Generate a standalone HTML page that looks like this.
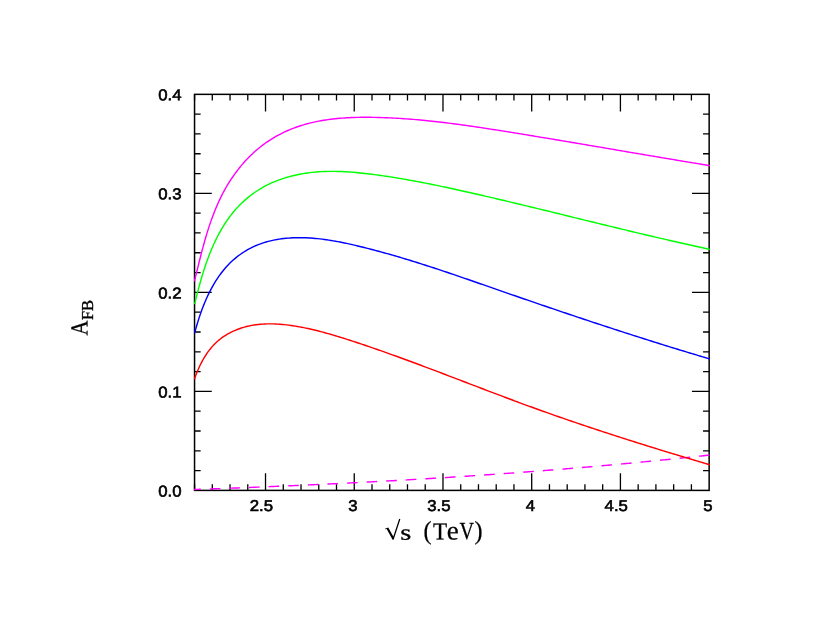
<!DOCTYPE html>
<html lang="en"><head><meta charset="utf-8"><title>A_FB vs sqrt(s)</title>
<style>html,body{margin:0;padding:0;background:#fff;}body{width:830px;height:642px;overflow:hidden;}</style>
</head><body>
<svg width="830" height="642" viewBox="0 0 830 642" style="display:block;will-change:transform;transform:translateZ(0)">
<rect x="0" y="0" width="830" height="642" fill="#ffffff"/>
<clipPath id="c"><rect x="193.75" y="94.35" width="516.1999999999999" height="396.84999999999997"/></clipPath>
<path d="M194.55,490.4 V484.30 M194.55,94.35 V100.45 M212.29,490.4 V484.30 M212.29,94.35 V100.45 M230.03,490.4 V484.30 M230.03,94.35 V100.45 M247.78,490.4 V484.30 M247.78,94.35 V100.45 M265.52,490.4 V473.20 M265.52,94.35 V111.55 M283.27,490.4 V484.30 M283.27,94.35 V100.45 M301.02,490.4 V484.30 M301.02,94.35 V100.45 M318.76,490.4 V484.30 M318.76,94.35 V100.45 M336.50,490.4 V484.30 M336.50,94.35 V100.45 M354.25,490.4 V473.20 M354.25,94.35 V111.55 M372.00,490.4 V484.30 M372.00,94.35 V100.45 M389.74,490.4 V484.30 M389.74,94.35 V100.45 M407.48,490.4 V484.30 M407.48,94.35 V100.45 M425.23,490.4 V484.30 M425.23,94.35 V100.45 M442.98,490.4 V473.20 M442.98,94.35 V111.55 M460.72,490.4 V484.30 M460.72,94.35 V100.45 M478.47,490.4 V484.30 M478.47,94.35 V100.45 M496.21,490.4 V484.30 M496.21,94.35 V100.45 M513.95,490.4 V484.30 M513.95,94.35 V100.45 M531.70,490.4 V473.20 M531.70,94.35 V111.55 M549.44,490.4 V484.30 M549.44,94.35 V100.45 M567.19,490.4 V484.30 M567.19,94.35 V100.45 M584.93,490.4 V484.30 M584.93,94.35 V100.45 M602.68,490.4 V484.30 M602.68,94.35 V100.45 M620.42,490.4 V473.20 M620.42,94.35 V111.55 M638.17,490.4 V484.30 M638.17,94.35 V100.45 M655.91,490.4 V484.30 M655.91,94.35 V100.45 M673.66,490.4 V484.30 M673.66,94.35 V100.45 M691.41,490.4 V484.30 M691.41,94.35 V100.45 M194.55,470.60 H200.65 M709.15,470.60 H703.05 M194.55,450.79 H200.65 M709.15,450.79 H703.05 M194.55,430.99 H200.65 M709.15,430.99 H703.05 M194.55,411.19 H200.65 M709.15,411.19 H703.05 M194.55,391.39 H211.75 M709.15,391.39 H691.95 M194.55,371.58 H200.65 M709.15,371.58 H703.05 M194.55,351.78 H200.65 M709.15,351.78 H703.05 M194.55,331.98 H200.65 M709.15,331.98 H703.05 M194.55,312.18 H200.65 M709.15,312.18 H703.05 M194.55,292.38 H211.75 M709.15,292.38 H691.95 M194.55,272.57 H200.65 M709.15,272.57 H703.05 M194.55,252.77 H200.65 M709.15,252.77 H703.05 M194.55,232.97 H200.65 M709.15,232.97 H703.05 M194.55,213.17 H200.65 M709.15,213.17 H703.05 M194.55,193.36 H211.75 M709.15,193.36 H691.95 M194.55,173.56 H200.65 M709.15,173.56 H703.05 M194.55,153.76 H200.65 M709.15,153.76 H703.05 M194.55,133.96 H200.65 M709.15,133.96 H703.05 M194.55,114.15 H200.65 M709.15,114.15 H703.05" stroke="#000" stroke-width="1.3" fill="none"/>
<rect x="194.55" y="94.35" width="514.5999999999999" height="396.04999999999995" fill="none" stroke="#000" stroke-width="1.5"/>
<g fill="none" stroke-linejoin="round" stroke-linecap="butt" clip-path="url(#c)">
<path d="M193.80,489.51 L195.79,489.44 L197.79,489.37 L199.78,489.30 L201.78,489.23 L203.77,489.16 L205.77,489.09 L207.76,489.02 L209.76,488.95 L211.75,488.88 L213.75,488.80 L215.74,488.73 L217.74,488.66 L219.73,488.59 L221.72,488.51 L223.72,488.44 L225.71,488.37 L227.71,488.29 L229.70,488.22 L231.70,488.14 L233.69,488.07 L235.69,487.99 L237.68,487.92 L239.68,487.84 L241.67,487.76 L243.66,487.68 L245.66,487.61 L247.65,487.53 L249.65,487.45 L251.64,487.37 L253.64,487.29 L255.63,487.21 L257.63,487.13 L259.62,487.05 L261.61,486.97 L263.61,486.89 L265.60,486.81 L267.60,486.73 L269.59,486.64 L271.59,486.56 L273.58,486.48 L275.57,486.40 L277.57,486.31 L279.56,486.23 L281.56,486.14 L283.55,486.06 L285.55,485.97 L287.54,485.88 L289.53,485.80 L291.53,485.71 L293.52,485.62 L295.52,485.54 L297.51,485.45 L299.51,485.36 L301.50,485.27 L303.49,485.18 L305.49,485.09 L307.48,485.00 L309.48,484.91 L311.47,484.82 L313.46,484.73 L315.46,484.63 L317.45,484.54 L319.45,484.45 L321.44,484.35 L323.43,484.26 L325.43,484.17 L327.42,484.07 L329.41,483.98 L331.41,483.88 L333.40,483.78 L335.40,483.69 L337.39,483.59 L339.38,483.49 L341.38,483.39 L343.37,483.30 L345.36,483.20 L347.36,483.10 L349.35,483.00 L351.34,482.90 L353.34,482.79 L355.33,482.69 L357.32,482.59 L359.32,482.49 L361.31,482.39 L363.31,482.28 L365.30,482.18 L367.29,482.07 L369.29,481.97 L371.28,481.86 L373.27,481.76 L375.26,481.65 L377.26,481.54 L379.25,481.44 L381.24,481.33 L383.24,481.22 L385.23,481.11 L387.22,481.00 L389.22,480.89 L391.21,480.78 L393.20,480.67 L395.20,480.56 L397.19,480.44 L399.18,480.33 L401.17,480.22 L403.17,480.10 L405.16,479.99 L407.15,479.88 L409.14,479.76 L411.14,479.64 L413.13,479.53 L415.12,479.41 L417.12,479.29 L419.11,479.17 L421.10,479.06 L423.09,478.94 L425.09,478.82 L427.08,478.70 L429.07,478.58 L431.06,478.45 L433.05,478.33 L435.05,478.21 L437.04,478.09 L439.03,477.96 L441.02,477.84 L443.02,477.71 L445.01,477.59 L447.00,477.46 L448.99,477.34 L450.98,477.21 L452.97,477.08 L454.97,476.95 L456.96,476.82 L458.95,476.69 L460.94,476.56 L462.93,476.43 L464.93,476.30 L466.92,476.17 L468.91,476.04 L470.90,475.91 L472.89,475.77 L474.88,475.64 L476.87,475.50 L478.87,475.37 L480.86,475.23 L482.85,475.10 L484.84,474.96 L486.83,474.82 L488.82,474.68 L490.81,474.54 L492.80,474.40 L494.80,474.26 L496.79,474.12 L498.78,473.98 L500.77,473.84 L502.76,473.70 L504.75,473.55 L506.74,473.41 L508.73,473.26 L510.72,473.12 L512.71,472.97 L514.70,472.83 L516.69,472.68 L518.68,472.53 L520.67,472.38 L522.66,472.23 L524.65,472.08 L526.64,471.93 L528.63,471.78 L530.63,471.63 L532.62,471.48 L534.61,471.32 L536.60,471.17 L538.59,471.02 L540.57,470.86 L542.56,470.70 L544.55,470.55 L546.54,470.39 L548.53,470.23 L550.52,470.08 L552.51,469.92 L554.50,469.76 L556.49,469.60 L558.48,469.43 L560.47,469.27 L562.46,469.11 L564.45,468.95 L566.44,468.78 L568.43,468.62 L570.42,468.45 L572.41,468.29 L574.39,468.12 L576.38,467.95 L578.37,467.79 L580.36,467.62 L582.35,467.45 L584.34,467.28 L586.33,467.11 L588.32,466.94 L590.30,466.76 L592.29,466.59 L594.28,466.42 L596.27,466.24 L598.26,466.07 L600.25,465.89 L602.23,465.72 L604.22,465.54 L606.21,465.36 L608.20,465.18 L610.19,465.00 L612.17,464.82 L614.16,464.64 L616.15,464.46 L618.14,464.28 L620.13,464.09 L622.11,463.91 L624.10,463.73 L626.09,463.54 L628.08,463.35 L630.06,463.17 L632.05,462.98 L634.04,462.79 L636.02,462.60 L638.01,462.41 L640.00,462.22 L641.98,462.03 L643.97,461.84 L645.96,461.65 L647.95,461.45 L649.93,461.26 L651.92,461.06 L653.90,460.87 L655.89,460.67 L657.88,460.47 L659.86,460.27 L661.85,460.08 L663.84,459.88 L665.82,459.67 L667.81,459.47 L669.79,459.27 L671.78,459.07 L673.77,458.86 L675.75,458.66 L677.74,458.45 L679.72,458.25 L681.71,458.04 L683.69,457.83 L685.68,457.63 L687.66,457.42 L689.65,457.21 L691.64,457.00 L693.62,456.78 L695.61,456.57 L697.59,456.36 L699.58,456.14 L701.56,455.93 L703.54,455.71 L705.53,455.50 L707.51,455.28 L709.50,455.06" stroke="#ff00ff" stroke-width="1.42" stroke-dasharray="10.6 9.02" stroke-dashoffset="3.6"/>
<path d="M194.64,378.56 L195.35,376.54 L196.11,374.52 L196.90,372.50 L197.73,370.49 L198.60,368.49 L199.51,366.50 L200.46,364.53 L201.46,362.58 L202.49,360.64 L203.57,358.74 L204.70,356.86 L205.87,355.01 L207.09,353.20 L208.35,351.42 L209.67,349.69 L211.03,348.00 L212.44,346.36 L213.91,344.77 L215.43,343.24 L217.00,341.76 L218.62,340.34 L220.30,338.98 L222.03,337.69 L223.80,336.45 L225.62,335.28 L227.48,334.16 L229.37,333.11 L231.30,332.12 L233.26,331.18 L235.25,330.31 L237.27,329.49 L239.30,328.73 L241.36,328.04 L243.43,327.40 L245.52,326.81 L247.62,326.29 L249.73,325.82 L251.85,325.41 L253.98,325.05 L256.11,324.74 L258.26,324.48 L260.41,324.27 L262.57,324.10 L264.73,323.98 L266.90,323.90 L269.07,323.87 L271.24,323.87 L273.42,323.91 L275.60,323.99 L277.78,324.11 L279.96,324.26 L282.14,324.44 L284.32,324.65 L286.50,324.89 L288.67,325.16 L290.85,325.45 L293.02,325.77 L295.18,326.11 L297.34,326.47 L299.49,326.85 L301.64,327.25 L303.78,327.67 L305.92,328.11 L308.05,328.56 L310.17,329.03 L312.29,329.52 L314.41,330.02 L316.52,330.53 L318.63,331.06 L320.73,331.60 L322.83,332.16 L324.93,332.73 L327.02,333.31 L329.11,333.90 L331.20,334.50 L333.28,335.11 L335.36,335.73 L337.44,336.35 L339.51,336.99 L341.58,337.63 L343.66,338.28 L345.72,338.94 L347.79,339.60 L349.86,340.27 L351.92,340.94 L353.98,341.61 L356.05,342.29 L358.11,342.97 L360.17,343.66 L362.23,344.34 L364.28,345.04 L366.34,345.73 L368.39,346.43 L370.45,347.13 L372.50,347.84 L374.55,348.55 L376.61,349.26 L378.66,349.97 L380.71,350.69 L382.75,351.41 L384.80,352.13 L386.85,352.86 L388.90,353.59 L390.94,354.32 L392.99,355.05 L395.03,355.79 L397.07,356.52 L399.11,357.26 L401.16,358.01 L403.20,358.75 L405.24,359.50 L407.28,360.25 L409.32,361.00 L411.36,361.75 L413.39,362.50 L415.43,363.26 L417.47,364.02 L419.50,364.78 L421.54,365.54 L423.58,366.30 L425.61,367.07 L427.65,367.83 L429.68,368.60 L431.71,369.37 L433.75,370.13 L435.78,370.90 L437.81,371.67 L439.85,372.45 L441.88,373.22 L443.91,373.99 L445.94,374.77 L447.98,375.54 L450.01,376.32 L452.04,377.09 L454.07,377.87 L456.10,378.65 L458.13,379.42 L460.16,380.20 L462.20,380.98 L464.23,381.76 L466.26,382.53 L468.29,383.31 L470.32,384.09 L472.35,384.87 L474.38,385.64 L476.41,386.42 L478.45,387.20 L480.48,387.97 L482.51,388.75 L484.54,389.52 L486.57,390.30 L488.61,391.07 L490.64,391.85 L492.67,392.62 L494.71,393.39 L496.74,394.16 L498.78,394.93 L500.81,395.70 L502.84,396.46 L504.88,397.23 L506.92,397.99 L508.95,398.76 L510.99,399.52 L513.03,400.28 L515.06,401.04 L517.10,401.79 L519.14,402.55 L521.18,403.30 L523.22,404.05 L525.26,404.80 L527.30,405.55 L529.35,406.30 L531.39,407.04 L533.43,407.78 L535.48,408.52 L537.52,409.26 L539.57,409.99 L541.61,410.72 L543.66,411.46 L545.71,412.18 L547.76,412.91 L549.81,413.64 L551.86,414.36 L553.91,415.08 L555.96,415.80 L558.01,416.51 L560.06,417.23 L562.12,417.94 L564.17,418.65 L566.22,419.36 L568.28,420.07 L570.33,420.78 L572.39,421.48 L574.45,422.18 L576.50,422.88 L578.56,423.58 L580.62,424.27 L582.68,424.97 L584.74,425.66 L586.80,426.35 L588.86,427.04 L590.92,427.73 L592.98,428.42 L595.05,429.10 L597.11,429.78 L599.17,430.46 L601.24,431.14 L603.30,431.82 L605.37,432.50 L607.43,433.17 L609.50,433.84 L611.57,434.51 L613.63,435.18 L615.70,435.85 L617.77,436.52 L619.84,437.18 L621.91,437.85 L623.98,438.51 L626.05,439.17 L628.12,439.83 L630.19,440.49 L632.26,441.14 L634.34,441.80 L636.41,442.45 L638.48,443.11 L640.56,443.76 L642.63,444.41 L644.70,445.05 L646.78,445.70 L648.85,446.35 L650.93,446.99 L653.01,447.64 L655.08,448.28 L657.16,448.92 L659.24,449.56 L661.32,450.20 L663.39,450.83 L665.47,451.47 L667.55,452.10 L669.63,452.74 L671.71,453.37 L673.79,454.00 L675.87,454.63 L677.95,455.26 L680.03,455.89 L682.11,456.52 L684.20,457.14 L686.28,457.77 L688.36,458.39 L690.44,459.01 L692.53,459.64 L694.61,460.26 L696.70,460.88 L698.78,461.50 L700.86,462.12 L702.95,462.73 L705.03,463.35 L707.12,463.97 L709.21,464.58" stroke="#ff0000" stroke-width="1.42" stroke-linecap="square"/>
<path d="M194.77,332.50 L195.33,330.44 L195.91,328.37 L196.51,326.29 L197.12,324.19 L197.76,322.09 L198.42,319.98 L199.10,317.86 L199.81,315.74 L200.54,313.61 L201.29,311.49 L202.07,309.36 L202.87,307.24 L203.70,305.13 L204.56,303.02 L205.44,300.91 L206.35,298.82 L207.29,296.74 L208.26,294.67 L209.27,292.61 L210.30,290.57 L211.36,288.55 L212.46,286.55 L213.59,284.57 L214.75,282.61 L215.95,280.68 L217.18,278.78 L218.44,276.90 L219.75,275.05 L221.09,273.24 L222.47,271.45 L223.89,269.71 L225.34,268.00 L226.84,266.32 L228.37,264.69 L229.95,263.10 L231.56,261.55 L233.21,260.05 L234.90,258.59 L236.63,257.17 L238.39,255.80 L240.18,254.48 L242.01,253.21 L243.87,251.98 L245.75,250.81 L247.67,249.68 L249.62,248.61 L251.60,247.60 L253.61,246.63 L255.64,245.72 L257.69,244.87 L259.77,244.07 L261.87,243.33 L264.00,242.63 L266.14,241.99 L268.30,241.40 L270.48,240.85 L272.67,240.35 L274.88,239.90 L277.10,239.50 L279.33,239.13 L281.57,238.81 L283.81,238.53 L286.07,238.30 L288.32,238.10 L290.59,237.94 L292.85,237.82 L295.12,237.73 L297.38,237.68 L299.64,237.67 L301.90,237.68 L304.16,237.73 L306.42,237.81 L308.67,237.92 L310.92,238.06 L313.17,238.22 L315.42,238.42 L317.66,238.64 L319.91,238.88 L322.14,239.15 L324.38,239.44 L326.62,239.76 L328.85,240.10 L331.08,240.45 L333.31,240.83 L335.53,241.22 L337.76,241.63 L339.98,242.06 L342.19,242.50 L344.41,242.96 L346.62,243.43 L348.83,243.91 L351.04,244.40 L353.25,244.91 L355.45,245.42 L357.65,245.94 L359.85,246.47 L362.05,247.01 L364.24,247.55 L366.43,248.10 L368.62,248.66 L370.81,249.22 L372.99,249.79 L375.17,250.36 L377.35,250.94 L379.53,251.53 L381.70,252.12 L383.88,252.72 L386.05,253.32 L388.22,253.93 L390.38,254.55 L392.55,255.17 L394.71,255.79 L396.87,256.42 L399.03,257.05 L401.19,257.69 L403.35,258.34 L405.50,258.99 L407.66,259.64 L409.81,260.30 L411.96,260.96 L414.11,261.63 L416.25,262.30 L418.40,262.97 L420.54,263.65 L422.69,264.33 L424.83,265.01 L426.97,265.70 L429.11,266.40 L431.25,267.09 L433.39,267.79 L435.52,268.49 L437.66,269.19 L439.79,269.90 L441.93,270.61 L444.06,271.32 L446.19,272.04 L448.32,272.75 L450.45,273.47 L452.58,274.20 L454.71,274.92 L456.84,275.64 L458.97,276.37 L461.10,277.10 L463.22,277.83 L465.35,278.56 L467.48,279.29 L469.60,280.03 L471.73,280.76 L473.85,281.50 L475.98,282.24 L478.10,282.98 L480.23,283.72 L482.35,284.45 L484.48,285.19 L486.60,285.93 L488.73,286.68 L490.85,287.42 L492.98,288.16 L495.11,288.90 L497.23,289.64 L499.36,290.38 L501.48,291.12 L503.61,291.86 L505.74,292.59 L507.86,293.33 L509.99,294.07 L512.12,294.81 L514.25,295.54 L516.38,296.28 L518.51,297.01 L520.63,297.75 L522.76,298.48 L524.89,299.22 L527.02,299.95 L529.15,300.68 L531.29,301.41 L533.42,302.14 L535.55,302.88 L537.68,303.61 L539.81,304.33 L541.95,305.06 L544.08,305.79 L546.21,306.52 L548.34,307.24 L550.48,307.97 L552.61,308.69 L554.75,309.42 L556.88,310.14 L559.02,310.86 L561.15,311.58 L563.29,312.31 L565.42,313.03 L567.56,313.75 L569.70,314.46 L571.83,315.18 L573.97,315.90 L576.11,316.61 L578.25,317.33 L580.39,318.04 L582.52,318.76 L584.66,319.47 L586.80,320.18 L588.94,320.89 L591.08,321.60 L593.22,322.31 L595.36,323.01 L597.50,323.72 L599.64,324.43 L601.79,325.13 L603.93,325.83 L606.07,326.54 L608.21,327.24 L610.35,327.94 L612.50,328.64 L614.64,329.33 L616.78,330.03 L618.93,330.73 L621.07,331.42 L623.22,332.11 L625.36,332.81 L627.51,333.50 L629.65,334.19 L631.80,334.88 L633.94,335.56 L636.09,336.25 L638.24,336.94 L640.38,337.62 L642.53,338.30 L644.68,338.98 L646.83,339.66 L648.97,340.34 L651.12,341.02 L653.27,341.70 L655.42,342.37 L657.57,343.05 L659.72,343.72 L661.87,344.39 L664.02,345.06 L666.17,345.73 L668.32,346.39 L670.47,347.06 L672.62,347.72 L674.77,348.39 L676.93,349.05 L679.08,349.71 L681.23,350.37 L683.38,351.02 L685.54,351.68 L687.69,352.33 L689.84,352.99 L692.00,353.64 L694.15,354.29 L696.31,354.93 L698.46,355.58 L700.62,356.23 L702.77,356.87 L704.93,357.51 L707.08,358.15 L709.24,358.79" stroke="#0000ff" stroke-width="1.42" stroke-linecap="square"/>
<path d="M194.81,303.43 L195.33,301.31 L195.85,299.17 L196.38,297.02 L196.92,294.86 L197.47,292.69 L198.03,290.51 L198.61,288.33 L199.20,286.13 L199.80,283.94 L200.42,281.73 L201.05,279.53 L201.69,277.32 L202.35,275.11 L203.03,272.90 L203.73,270.69 L204.44,268.48 L205.17,266.28 L205.92,264.08 L206.69,261.88 L207.48,259.69 L208.29,257.50 L209.12,255.32 L209.98,253.15 L210.85,250.99 L211.75,248.84 L212.68,246.70 L213.63,244.57 L214.60,242.46 L215.60,240.36 L216.62,238.28 L217.67,236.21 L218.75,234.16 L219.86,232.13 L221.00,230.12 L222.16,228.13 L223.36,226.16 L224.59,224.21 L225.84,222.29 L227.13,220.39 L228.45,218.52 L229.81,216.67 L231.20,214.85 L232.62,213.06 L234.08,211.29 L235.57,209.56 L237.10,207.86 L238.66,206.19 L240.26,204.56 L241.89,202.96 L243.56,201.39 L245.26,199.86 L246.99,198.37 L248.75,196.91 L250.55,195.49 L252.37,194.12 L254.23,192.78 L256.11,191.49 L258.03,190.23 L259.97,189.03 L261.94,187.86 L263.93,186.74 L265.95,185.66 L268.00,184.63 L270.07,183.64 L272.16,182.69 L274.27,181.79 L276.40,180.92 L278.54,180.10 L280.71,179.32 L282.89,178.57 L285.08,177.87 L287.29,177.21 L289.51,176.58 L291.75,176.00 L293.99,175.45 L296.24,174.94 L298.50,174.47 L300.76,174.03 L303.03,173.63 L305.30,173.27 L307.58,172.94 L309.86,172.64 L312.14,172.38 L314.43,172.15 L316.72,171.95 L319.01,171.78 L321.30,171.64 L323.60,171.53 L325.90,171.45 L328.20,171.39 L330.50,171.36 L332.81,171.36 L335.11,171.38 L337.42,171.42 L339.72,171.49 L342.03,171.58 L344.34,171.68 L346.65,171.81 L348.96,171.96 L351.27,172.13 L353.58,172.31 L355.89,172.51 L358.20,172.73 L360.50,172.96 L362.81,173.20 L365.12,173.46 L367.42,173.73 L369.72,174.01 L372.02,174.30 L374.32,174.60 L376.62,174.91 L378.91,175.23 L381.21,175.56 L383.50,175.89 L385.79,176.23 L388.07,176.57 L390.35,176.92 L392.64,177.28 L394.92,177.65 L397.19,178.02 L399.47,178.40 L401.74,178.78 L404.01,179.17 L406.28,179.57 L408.55,179.97 L410.82,180.37 L413.08,180.78 L415.35,181.20 L417.61,181.62 L419.87,182.05 L422.13,182.48 L424.39,182.92 L426.64,183.36 L428.90,183.81 L431.15,184.26 L433.41,184.71 L435.66,185.17 L437.91,185.64 L440.16,186.10 L442.41,186.57 L444.66,187.05 L446.90,187.53 L449.15,188.01 L451.39,188.49 L453.64,188.98 L455.88,189.47 L458.13,189.96 L460.37,190.46 L462.61,190.96 L464.85,191.46 L467.10,191.97 L469.34,192.47 L471.58,192.98 L473.82,193.49 L476.06,194.00 L478.30,194.52 L480.54,195.03 L482.78,195.55 L485.02,196.07 L487.26,196.59 L489.50,197.11 L491.74,197.64 L493.98,198.16 L496.22,198.69 L498.46,199.21 L500.71,199.74 L502.95,200.27 L505.19,200.80 L507.43,201.33 L509.67,201.87 L511.91,202.40 L514.15,202.94 L516.39,203.47 L518.63,204.01 L520.87,204.55 L523.11,205.09 L525.35,205.62 L527.59,206.17 L529.83,206.71 L532.07,207.25 L534.31,207.79 L536.55,208.33 L538.79,208.88 L541.03,209.42 L543.27,209.97 L545.51,210.51 L547.75,211.06 L549.99,211.61 L552.23,212.15 L554.47,212.70 L556.71,213.25 L558.95,213.79 L561.19,214.34 L563.44,214.89 L565.68,215.44 L567.92,215.99 L570.16,216.54 L572.40,217.08 L574.64,217.63 L576.88,218.18 L579.12,218.73 L581.36,219.28 L583.60,219.83 L585.84,220.37 L588.08,220.92 L590.32,221.47 L592.57,222.02 L594.81,222.56 L597.05,223.11 L599.29,223.66 L601.53,224.20 L603.77,224.75 L606.01,225.29 L608.26,225.84 L610.50,226.38 L612.74,226.93 L614.98,227.47 L617.22,228.01 L619.46,228.55 L621.71,229.09 L623.95,229.63 L626.19,230.17 L628.43,230.71 L630.67,231.24 L632.92,231.78 L635.16,232.32 L637.40,232.85 L639.64,233.38 L641.89,233.91 L644.13,234.45 L646.37,234.97 L648.61,235.50 L650.86,236.03 L653.10,236.56 L655.34,237.08 L657.59,237.60 L659.83,238.13 L662.07,238.65 L664.32,239.16 L666.56,239.68 L668.81,240.20 L671.05,240.71 L673.29,241.22 L675.54,241.74 L677.78,242.24 L680.03,242.75 L682.27,243.26 L684.51,243.76 L686.76,244.26 L689.00,244.76 L691.25,245.26 L693.49,245.76 L695.74,246.25 L697.98,246.75 L700.23,247.24 L702.48,247.72 L704.72,248.21 L706.97,248.69 L709.21,249.18" stroke="#00ff00" stroke-width="1.42" stroke-linecap="square"/>
<path d="M194.53,280.73 L195.08,278.52 L195.63,276.29 L196.18,274.05 L196.73,271.81 L197.29,269.56 L197.84,267.31 L198.40,265.05 L198.96,262.78 L199.53,260.51 L200.10,258.24 L200.68,255.96 L201.27,253.68 L201.86,251.40 L202.46,249.12 L203.08,246.83 L203.70,244.55 L204.34,242.27 L204.98,239.99 L205.64,237.71 L206.32,235.43 L207.00,233.16 L207.71,230.89 L208.42,228.62 L209.16,226.36 L209.91,224.11 L210.68,221.86 L211.47,219.62 L212.29,217.39 L213.12,215.16 L213.97,212.95 L214.84,210.74 L215.74,208.55 L216.66,206.36 L217.61,204.18 L218.58,202.02 L219.58,199.87 L220.60,197.74 L221.66,195.61 L222.74,193.51 L223.85,191.41 L224.99,189.33 L226.16,187.27 L227.36,185.23 L228.59,183.20 L229.85,181.20 L231.15,179.21 L232.47,177.24 L233.82,175.30 L235.20,173.37 L236.61,171.47 L238.05,169.60 L239.52,167.75 L241.02,165.92 L242.54,164.12 L244.10,162.34 L245.68,160.60 L247.29,158.88 L248.93,157.19 L250.60,155.54 L252.29,153.91 L254.01,152.31 L255.76,150.75 L257.54,149.22 L259.35,147.73 L261.18,146.27 L263.03,144.85 L264.92,143.46 L266.83,142.11 L268.77,140.80 L270.73,139.53 L272.72,138.30 L274.74,137.10 L276.77,135.95 L278.83,134.83 L280.92,133.76 L283.02,132.72 L285.14,131.72 L287.29,130.76 L289.45,129.83 L291.62,128.95 L293.82,128.10 L296.03,127.29 L298.25,126.51 L300.49,125.77 L302.74,125.07 L305.00,124.40 L307.27,123.77 L309.55,123.18 L311.83,122.62 L314.13,122.09 L316.44,121.60 L318.75,121.14 L321.07,120.71 L323.40,120.31 L325.73,119.94 L328.07,119.60 L330.42,119.29 L332.77,119.00 L335.12,118.74 L337.49,118.51 L339.85,118.29 L342.22,118.11 L344.59,117.94 L346.96,117.80 L349.34,117.67 L351.72,117.57 L354.10,117.48 L356.48,117.41 L358.86,117.36 L361.25,117.33 L363.63,117.31 L366.01,117.30 L368.39,117.31 L370.78,117.33 L373.15,117.36 L375.53,117.40 L377.91,117.45 L380.28,117.52 L382.65,117.59 L385.02,117.67 L387.39,117.77 L389.76,117.87 L392.12,117.98 L394.49,118.11 L396.85,118.24 L399.21,118.38 L401.57,118.53 L403.92,118.68 L406.28,118.85 L408.63,119.02 L410.99,119.21 L413.34,119.40 L415.69,119.60 L418.04,119.80 L420.39,120.02 L422.73,120.24 L425.08,120.47 L427.42,120.70 L429.77,120.94 L432.11,121.19 L434.45,121.45 L436.79,121.71 L439.13,121.98 L441.47,122.25 L443.81,122.53 L446.14,122.81 L448.48,123.10 L450.82,123.40 L453.15,123.70 L455.49,124.01 L457.82,124.32 L460.15,124.63 L462.48,124.95 L464.82,125.28 L467.15,125.61 L469.48,125.94 L471.81,126.27 L474.14,126.61 L476.47,126.96 L478.80,127.30 L481.13,127.65 L483.46,128.01 L485.79,128.36 L488.12,128.72 L490.45,129.08 L492.77,129.44 L495.10,129.81 L497.43,130.17 L499.76,130.54 L502.09,130.91 L504.42,131.28 L506.75,131.65 L509.08,132.03 L511.41,132.40 L513.74,132.78 L516.07,133.16 L518.40,133.53 L520.73,133.91 L523.06,134.29 L525.39,134.67 L527.72,135.05 L530.05,135.43 L532.38,135.82 L534.72,136.20 L537.05,136.58 L539.38,136.97 L541.71,137.36 L544.04,137.74 L546.38,138.13 L548.71,138.52 L551.04,138.91 L553.37,139.29 L555.70,139.68 L558.04,140.07 L560.37,140.46 L562.70,140.86 L565.04,141.25 L567.37,141.64 L569.70,142.03 L572.03,142.43 L574.37,142.82 L576.70,143.21 L579.03,143.61 L581.36,144.00 L583.70,144.40 L586.03,144.79 L588.36,145.19 L590.70,145.58 L593.03,145.98 L595.36,146.38 L597.69,146.77 L600.03,147.17 L602.36,147.57 L604.69,147.96 L607.02,148.36 L609.36,148.76 L611.69,149.15 L614.02,149.55 L616.35,149.95 L618.68,150.34 L621.02,150.74 L623.35,151.14 L625.68,151.53 L628.01,151.93 L630.34,152.33 L632.67,152.72 L635.00,153.12 L637.33,153.52 L639.66,153.91 L642.00,154.31 L644.33,154.70 L646.66,155.10 L648.99,155.49 L651.31,155.89 L653.64,156.28 L655.97,156.67 L658.30,157.07 L660.63,157.46 L662.96,157.85 L665.29,158.24 L667.61,158.64 L669.94,159.03 L672.27,159.42 L674.60,159.81 L676.92,160.20 L679.25,160.59 L681.58,160.97 L683.90,161.36 L686.23,161.75 L688.55,162.13 L690.88,162.52 L693.20,162.90 L695.53,163.29 L697.85,163.67 L700.17,164.05 L702.50,164.43 L704.82,164.81 L707.14,165.19 L709.46,165.57" stroke="#ff00ff" stroke-width="1.42" stroke-linecap="square"/>
</g>
<g style="font-family:'Liberation Sans',sans-serif;font-size:15.65px;fill:#000;stroke:#000;stroke-width:0.6px">
<text transform="translate(158.20 496.40) rotate(0.03)" textLength="23.3" lengthAdjust="spacingAndGlyphs">0.0</text>
<text transform="translate(158.20 397.39) rotate(0.03)" textLength="23.3" lengthAdjust="spacingAndGlyphs">0.1</text>
<text transform="translate(158.20 298.38) rotate(0.03)" textLength="23.3" lengthAdjust="spacingAndGlyphs">0.2</text>
<text transform="translate(158.20 199.36) rotate(0.03)" textLength="23.3" lengthAdjust="spacingAndGlyphs">0.3</text>
<text transform="translate(158.20 100.35) rotate(0.03)" textLength="23.3" lengthAdjust="spacingAndGlyphs">0.4</text>
<text transform="translate(249.72 511.10) rotate(0.03)" textLength="23.3" lengthAdjust="spacingAndGlyphs">2.5</text>
<text transform="translate(348.25 511.10) rotate(0.03)" textLength="9.3" lengthAdjust="spacingAndGlyphs">3</text>
<text transform="translate(427.18 511.10) rotate(0.03)" textLength="23.3" lengthAdjust="spacingAndGlyphs">3.5</text>
<text transform="translate(525.70 511.10) rotate(0.03)" textLength="9.3" lengthAdjust="spacingAndGlyphs">4</text>
<text transform="translate(604.62 511.10) rotate(0.03)" textLength="23.3" lengthAdjust="spacingAndGlyphs">4.5</text>
<text transform="translate(703.15 511.10) rotate(0.03)" textLength="9.3" lengthAdjust="spacingAndGlyphs">5</text>
</g>
<g style="font-family:'Liberation Serif',serif;fill:#000;stroke:#000">
<path d="M385.12,529.35 L384.94,528.63 L388.25,527.60 L393.30,536.40 L399.16,518.87 L400.36,519.23 L393.61,539.83 L392.60,539.83 L386.70,529.11 Z" fill="#000" stroke="none"/>
<text transform="translate(400.30 539.70) rotate(0.03)" font-size="22.2" textLength="11.0" lengthAdjust="spacingAndGlyphs" stroke-width="0.3">s</text>
<text transform="translate(423.50 538.70) rotate(0.03)" font-size="25.9" textLength="8.0" lengthAdjust="spacingAndGlyphs" stroke-width="0.25">(</text>
<text transform="translate(432.90 539.40) rotate(0.03)" font-size="24.5" textLength="14.1" lengthAdjust="spacingAndGlyphs" stroke-width="0.25">T</text>
<text transform="translate(446.70 539.40) rotate(0.03)" font-size="27" textLength="12.0" lengthAdjust="spacingAndGlyphs" stroke-width="0.25">e</text>
<text transform="translate(459.40 539.40) rotate(0.03)" font-size="24.5" textLength="14.5" lengthAdjust="spacingAndGlyphs" stroke-width="0.25">V</text>
<text transform="translate(474.60 538.70) rotate(0.03)" font-size="25.9" textLength="8.0" lengthAdjust="spacingAndGlyphs" stroke-width="0.25">)</text>
<g transform="translate(87.6,335.6) rotate(-89.94)">
<text x="0" y="0" font-size="24.5" textLength="15" lengthAdjust="spacingAndGlyphs" stroke-width="0.3">A</text>
<text x="15.5" y="5.4" font-size="16.7" textLength="20.2" lengthAdjust="spacingAndGlyphs" stroke-width="0.38">FB</text>
</g></g>
</svg>
</body></html>
